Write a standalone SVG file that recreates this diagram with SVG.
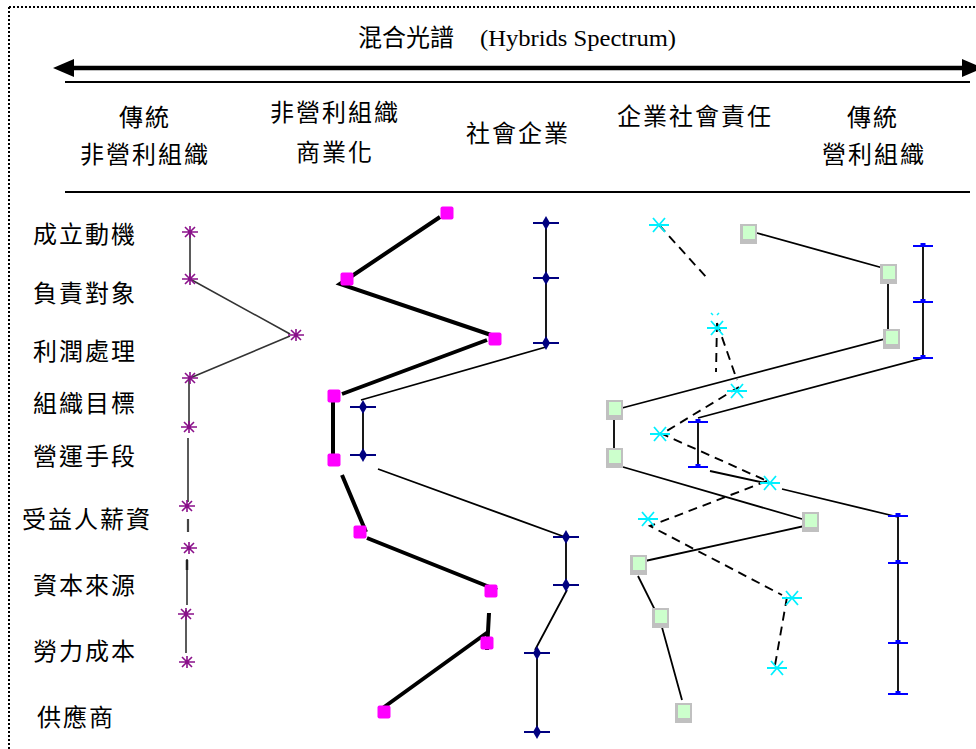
<svg xmlns="http://www.w3.org/2000/svg" width="976" height="749" viewBox="0 0 976 749">
<style>
.cjk{font-family:"Noto Sans CJK TC","Noto Sans CJK SC",sans-serif;font-size:24px;fill:#000;letter-spacing:2px}
.hd{text-anchor:middle}
.en{font-family:"Liberation Serif",serif;font-size:24px;fill:#000}
.thin{stroke:#000;stroke-width:1.8;fill:none}
.thick{stroke:#000;stroke-width:4;fill:none}
.dash{stroke:#000;stroke-width:1.9;stroke-dasharray:9 6;fill:none}
.grey{stroke:#333;stroke-width:1.6;fill:none}
</style>
<defs>
<g id="pAst" stroke="#8a108a" stroke-width="1.6" fill="none"><path d="M-8,0H8M-5,-5L5,5M-5,5L5,-5M0,-6V6"/></g>
<g id="cAst" stroke="#00f0ff" stroke-width="1.8" fill="none"><path d="M-10,0H10M-6,-7L6,7M-6,7L6,-7"/></g>
<g id="nDia"><path d="M-13,0H13" stroke="#000080" stroke-width="2"/><path d="M0,-7L4,0L0,7L-4,0Z" fill="#000080"/></g>
<g id="mSq"><rect x="-6.5" y="-6.5" width="13" height="13" rx="2" fill="#ff00ff"/></g>
<g id="gSq"><rect x="-8" y="-10" width="17" height="20" fill="#c0c0c0"/><rect x="-5" y="-8" width="12" height="13" fill="#ccffcc"/></g>
<g id="bI"><path d="M-10,0H10" stroke="#0000ff" stroke-width="2"/><rect x="-2.5" y="-3" width="5" height="3" fill="#0000ff"/></g>
</defs>
<rect width="976" height="749" fill="#fff"/>
<g id="frame">
<path d="M9,7H976M9,7V749" stroke="#000" stroke-width="2" stroke-dasharray="2 2" fill="none"/>
</g>
<g id="title">
<text class="cjk" x="358" y="46" style="letter-spacing:0">混合光譜</text>
<text class="en" x="480" y="46" textLength="196" lengthAdjust="spacingAndGlyphs">(Hybrids Spectrum)</text>
</g>
<g id="spectrum-arrow">
<path d="M70,68H962" stroke="#000" stroke-width="4.5"/>
<path d="M53,68L74,59V77Z" fill="#000"/>
<path d="M983,68L962,59V77Z" fill="#000"/>
<path d="M65,82H970M65,192H970" stroke="#000" stroke-width="2"/>
</g>
<g id="headers">
<text class="cjk hd" x="145" y="126">傳統</text>
<text class="cjk hd" x="145" y="163">非營利組織</text>
<text class="cjk hd" x="335" y="121">非營利組織</text>
<text class="cjk hd" x="335" y="161">商業化</text>
<text class="cjk hd" x="518" y="142">社會企業</text>
<text class="cjk hd" x="695" y="125">企業社會責任</text>
<text class="cjk hd" x="873" y="126">傳統</text>
<text class="cjk hd" x="874" y="163">營利組織</text>
</g>
<g id="row-labels">
<text class="cjk" x="33" y="243">成立動機</text>
<text class="cjk" x="33" y="302">負責對象</text>
<text class="cjk" x="33" y="360">利潤處理</text>
<text class="cjk" x="33" y="412">組織目標</text>
<text class="cjk" x="33" y="465">營運手段</text>
<text class="cjk" x="22" y="528">受益人薪資</text>
<text class="cjk" x="33" y="594">資本來源</text>
<text class="cjk" x="33" y="660">勞力成本</text>
<text class="cjk" x="37" y="726">供應商</text>
</g>
<g id="connectors">
<path class="grey" d="M190,232V279L290,334M290,336L190,378M189,378V427M188,438V502"/>
<path d="M188,519V532" stroke="#444" stroke-width="2.2"/>
<path class="grey" d="M187,559V605M186,610V653"/>
<path d="M187,560V570" stroke="#222" stroke-width="2.5"/>
<path class="thick" d="M440,217L340,284L500,338M487,340L342,394M333,396V456M342,475L366,532M367,538L497,590M489,613L487,650M488,632L380,710"/>
<path class="thin" d="M546,223V343M546,347L361,400M363,407V455M378,469L565,537M566,537V585M567,590L535,650M537,653V732"/>
<path class="dash" d="M659,225L707,278M717,323L716,372M717,323L737,380M739,387L665,432M660,433L767,481M767,481L650,526L782,595M787,597L774,671"/>
<path class="thin" d="M757,233L883,268M888,273V338L622,408M614,410V458M623,467L802,519M818,523L645,561M638,576L660,620L682,700"/>
<path class="thin" d="M923,246V358L698,418M698,422V467M710,471L765,483M782,489L898,517M898,516V694"/>
</g>
<g id="series-traditional-nonprofit">
<use href="#pAst" x="190" y="232"/>
<use href="#pAst" x="190" y="279"/>
<use href="#pAst" x="296" y="335"/>
<use href="#pAst" x="190" y="378"/>
<use href="#pAst" x="189" y="427"/>
<use href="#pAst" x="187" y="506"/>
<use href="#pAst" x="189" y="548"/>
<use href="#pAst" x="186" y="614"/>
<use href="#pAst" x="187" y="662"/>
</g>
<g id="series-commercialised-nonprofit">
<use href="#mSq" x="447" y="213"/>
<use href="#mSq" x="347" y="279"/>
<use href="#mSq" x="495" y="339"/>
<use href="#mSq" x="334" y="396"/>
<use href="#mSq" x="334" y="460"/>
<use href="#mSq" x="360" y="532"/>
<use href="#mSq" x="491" y="591"/>
<use href="#mSq" x="487" y="643"/>
<use href="#mSq" x="384" y="712"/>
</g>
<g id="series-social-enterprise">
<use href="#nDia" x="546" y="223"/>
<use href="#nDia" x="546" y="278"/>
<use href="#nDia" x="546" y="343"/>
<use href="#nDia" x="363" y="407"/>
<use href="#nDia" x="363" y="455"/>
<use href="#nDia" x="566" y="537"/>
<use href="#nDia" x="566" y="585"/>
<use href="#nDia" x="537" y="653"/>
<use href="#nDia" x="537" y="732"/>
</g>
<g id="series-csr">
<use href="#cAst" x="659" y="225"/>
<path d="M711,313l2,2M719,313l-2,2" stroke="#00f0ff" stroke-width="1.5"/>
<use href="#cAst" x="717" y="328"/>
<use href="#cAst" x="737" y="391"/>
<use href="#cAst" x="660" y="434"/>
<use href="#cAst" x="770" y="483"/>
<use href="#cAst" x="648" y="519"/>
<use href="#cAst" x="792" y="598"/>
<use href="#cAst" x="777" y="668"/>
</g>
<g id="series-green">
<use href="#gSq" x="748" y="234"/>
<use href="#gSq" x="888" y="274"/>
<use href="#gSq" x="891" y="339"/>
<use href="#gSq" x="614" y="410"/>
<use href="#gSq" x="614" y="458"/>
<use href="#gSq" x="810" y="522"/>
<use href="#gSq" x="638" y="565"/>
<use href="#gSq" x="660" y="618"/>
<use href="#gSq" x="683" y="713"/>
</g>
<g id="series-blue">
<use href="#bI" x="923" y="246"/>
<use href="#bI" x="923" y="302"/>
<use href="#bI" x="923" y="358"/>
<use href="#bI" x="698" y="422"/>
<use href="#bI" x="698" y="467"/>
<use href="#bI" x="898" y="516"/>
<use href="#bI" x="898" y="563"/>
<use href="#bI" x="898" y="643"/>
<use href="#bI" x="898" y="694"/>
</g>
</svg>
